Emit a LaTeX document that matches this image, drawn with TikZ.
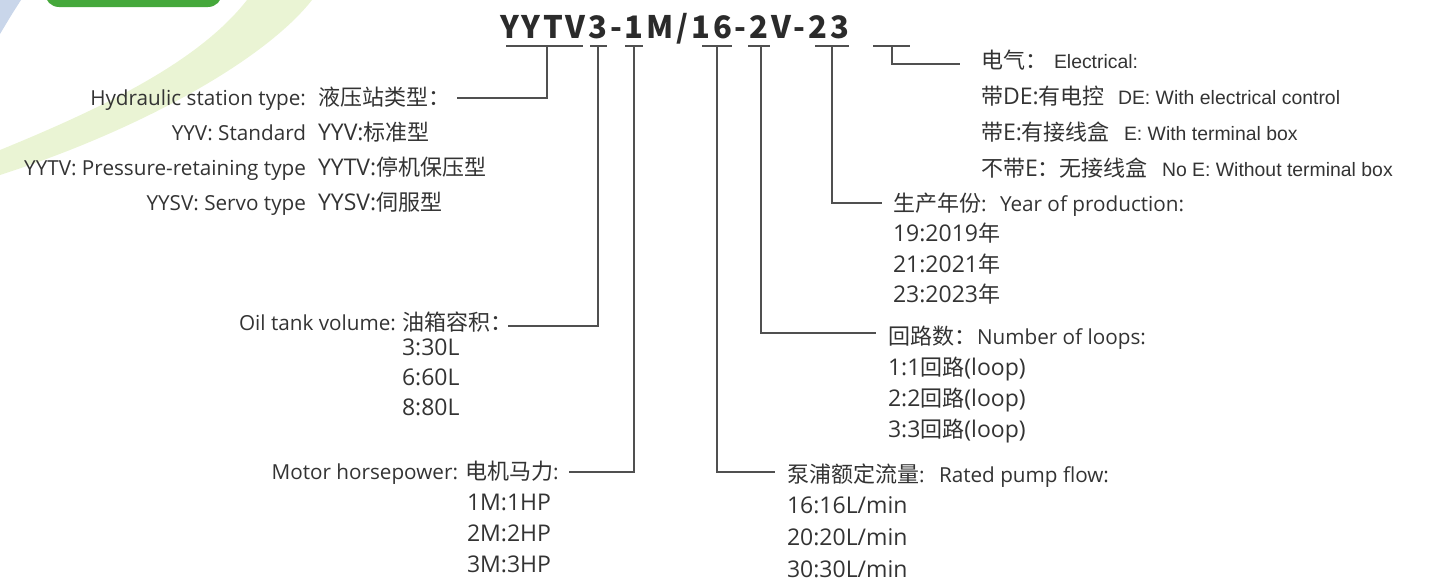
\documentclass[tikz,border=0pt]{standalone}
\usepackage{fontspec}
\setmainfont{Open Sans}
\newfontfamily\cjk{Noto Sans CJK SC}
\newfontfamily\seg{Open Sans}
\newfontfamily\ar{Liberation Sans}
\newcommand\zht[1]{{\cjk\fontsize{22}{24}\selectfont #1}}
\newcommand\tk{\kern2.8pt}
\definecolor{txt}{HTML}{333333}
\definecolor{ttl}{HTML}{2B2B2B}
\definecolor{ln}{HTML}{505050}
\definecolor{swoosh}{HTML}{EAF4D4}
\definecolor{swblue}{HTML}{C9D6EA}
\definecolor{tabgreen}{HTML}{45A83B}
\begin{document}
\begin{tikzpicture}[x=1pt,y=-1pt,
  lbl/.style={inner sep=0pt, outer sep=0pt, text=txt},
  en/.style={lbl, font=\seg\fontsize{20.7}{24}\selectfont},
  val/.style={lbl, font=\seg\fontsize{23}{26}\selectfont},
  zh/.style={lbl, font=\cjk\fontsize{22}{24}\selectfont},
  ae/.style={lbl, font=\ar\fontsize{19.4}{22}\selectfont},
  tc/.style={inner sep=0pt, outer sep=0pt, text=ttl, font=\cjk\bfseries\fontsize{31}{34}\selectfont},
  conn/.style={draw=ln, line width=1.8pt},
  uline/.style={draw=ln, line width=1.8pt},
]
\useasboundingbox (0,0) rectangle (1435,581);
% background decorations
\fill[swoosh] (0,150) .. controls (110,105) and (200,60) .. (247,0) -- (312,0) .. controls (265,60) and (140,130) .. (0,175) -- cycle;
\fill[swblue] (0,0) -- (21,0) .. controls (12,14) .. (0,34) -- cycle;
\fill[tabgreen, rounded corners=14pt] (45,-30) rectangle (222,7);

% title
\node[tc, anchor=base west] (title) at (500,38) {Y\tk Y\tk T\tk V\tk 3\tk -\tk 1\tk M\tk /\tk 1\tk 6\tk -\tk 2\tk V\tk -\tk 2\tk 3};

% underline segments
\draw[uline] (506,46) -- (583,46);
\draw[uline] (590,46) -- (607,46);
\draw[uline] (625,46) -- (643,46);
\draw[uline] (702,46) -- (732,46);
\draw[uline] (748,46) -- (770,46);
\draw[uline] (815,46) -- (849,46);
\draw[uline] (873,46) -- (910,46);

% connector coordinates
\coordinate (s1) at (547,46);  \coordinate (e1) at (457,98);
\coordinate (s2) at (598,46);  \coordinate (e2) at (508,326);
\coordinate (s3) at (634,46);  \coordinate (e3) at (569,472);
\coordinate (s4) at (717,46);  \coordinate (e4) at (775,472);
\coordinate (s5) at (761,46);  \coordinate (e5) at (876,333);
\coordinate (s6) at (832,46);  \coordinate (e6) at (882,203);
\coordinate (s7) at (892,46);  \coordinate (e7) at (960,64);
\draw[conn] (s1) |- (e1);
\draw[conn] (s2) |- (e2);
\draw[conn] (s3) |- (e3);
\draw[conn] (s4) |- (e4);
\draw[conn] (s5) |- (e5);
\draw[conn] (s6) |- (e6);
\draw[conn] (s7) |- (e7);

% left block: station type
\node[en, anchor=base east] (hyd) at (306,105) {Hydraulic station type:};
\node[zh, anchor=base west] (hydz) at (318,105) {液压站类型：};
\node[en, anchor=base east] (yyv) at (306,140) {YYV: Standard};
\node[val, anchor=base west] (yyvz) at (318,140) {YYV:\zht{标准型}};
\node[en, anchor=base east] (yytv) at (306,175) {YYTV: Pressure-retaining type};
\node[val, anchor=base west] (yytvz) at (318,175) {YYTV:\zht{停机保压型}};
\node[en, anchor=base east] (yysv) at (306,210) {YYSV: Servo type};
\node[val, anchor=base west] (yysvz) at (318,210) {YYSV:\zht{伺服型}};

% oil tank
\node[en, anchor=base east] (oil) at (396,330) {Oil tank volume:};
\node[zh, anchor=base west] (oilz) at (402,330) {油箱容积：};
\node[val, anchor=base west] (o1) at (402,355) {3:30L};
\node[val, anchor=base west] (o2) at (402,385) {6:60L};
\node[val, anchor=base west] (o3) at (402,415) {8:80L};

% motor
\node[en, anchor=base east] (mot) at (458,479) {Motor horsepower:};
\node[en, anchor=base west] (motz) at (465,479) {\zht{电机马力}:};
\node[val, anchor=base west] (m1) at (467,510) {1M:1HP};
\node[val, anchor=base west] (m2) at (467,541) {2M:2HP};
\node[val, anchor=base west] (m3) at (467,572) {3M:3HP};

% electrical
\node[zh, anchor=base west] (elz) at (981,68) {电气：};
\node[ae, anchor=base west] (el) at (1054,68) {Electrical:};
\node[val, anchor=base west] (de1z) at (981,104) {\zht{带}DE:\zht{有电控}};
\node[ae, anchor=base west] (de1) at (1118,104) {DE: With electrical control};
\node[val, anchor=base west] (de2z) at (981,140) {\zht{带}E:\zht{有接线盒}};
\node[ae, anchor=base west] (de2) at (1124,140) {E: With terminal box};
\node[val, anchor=base west] (de3z) at (981,176) {\zht{不带}E\zht{：无接线盒}};
\node[ae, anchor=base west] (de3) at (1162,176) {No E: Without terminal box};

% year
\node[en, anchor=base west] (yrz) at (893,211) {\zht{生产年份}:};
\node[en, anchor=base west] (yr) at (1000,211) {Year of production:};
\node[val, anchor=base west] (y1) at (893,241) {19:2019\zht{年}};
\node[val, anchor=base west] (y2) at (893,272) {21:2021\zht{年}};
\node[val, anchor=base west] (y3) at (893,302) {23:2023\zht{年}};

% loops
\node[zh, anchor=base west] (lpz) at (888,344) {回路数：};
\node[en, anchor=base west] (lp) at (977,344) {Number of loops:};
\node[val, anchor=base west] (l1) at (888,375) {1:1\zht{回路}(loop)};
\node[val, anchor=base west] (l2) at (888,406) {2:2\zht{回路}(loop)};
\node[val, anchor=base west] (l3) at (888,437) {3:3\zht{回路}(loop)};

% pump flow
\node[en, anchor=base west] (pfz) at (787,482) {\zht{泵浦额定流量}:};
\node[en, anchor=base west] (pf) at (939,482) {Rated pump flow:};
\node[val, anchor=base west] (p1) at (787,513) {16:16L/min};
\node[val, anchor=base west] (p2) at (787,545) {20:20L/min};
\node[val, anchor=base west] (p3) at (787,577) {30:30L/min};
\end{tikzpicture}
\end{document}
